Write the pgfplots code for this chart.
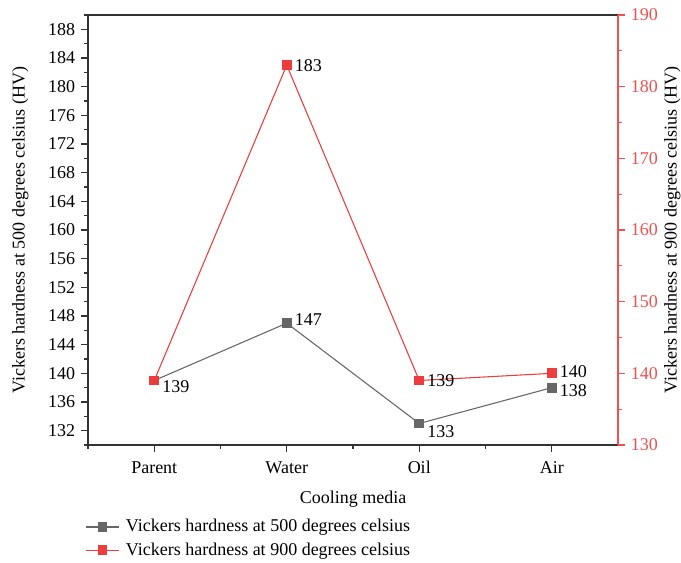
\documentclass[border=0pt]{standalone}
\usepackage{fontspec}
\setmainfont{Liberation Serif}
\usepackage{pgfplots}
\pgfplotsset{compat=1.18}
\definecolor{cgray}{HTML}{666666}
\definecolor{cred}{HTML}{EE3B3B}
\definecolor{axred}{HTML}{F05050}
\begin{document}
\fontsize{13.5}{16}\selectfont
\begin{tikzpicture}[font=\fontsize{13.5}{16}\selectfont]
\path[use as bounding box] (-66pt,-88.5pt) rectangle (444.75pt,333.75pt);
\begin{axis}[
  scale only axis, width=397.5pt, height=322.5pt,
  xmin=-0.5, xmax=3.5, ymin=130, ymax=190,
  axis x line*=bottom, axis y line*=left,
  axis line style={black!80, line width=0.8pt, -},
  xtick={0,1,2,3}, xticklabels={Parent,Water,Oil,Air},
  minor xtick={-0.5,0.5,1.5,2.5},
  ytick={132,136,...,188}, minor ytick={130,134,...,190},
  tick align=outside, major tick length=5pt, minor tick length=2.7pt,
  tick style={black!80, line width=0.8pt},
  tick label style={font=\fontsize{13.5}{16}\selectfont},
  xticklabel style={yshift=-2.5pt},
  label style={font=\fontsize{13.5}{16}\selectfont},
  /pgf/number format/assume math mode=true,
  xlabel={Cooling media}, ylabel={Vickers hardness at 500 degrees celsius (HV)},
  xlabel style={yshift=-3.5pt},
  ylabel style={yshift=5.5pt},
  legend style={draw=none, fill=none, at={(-0.012,-0.16)}, anchor=north west,
    row sep=2pt, font=\fontsize{13.5}{16}\selectfont,
    nodes={inner xsep=5pt}},
  legend cell align=left,
  legend image code/.code={
    \draw[#1] (0cm,0cm) -- (0.85cm,0cm);
    \draw[#1, mark repeat=1] plot coordinates {(0.425cm,0cm)};
  },
  clip=false,
]
\addplot[cgray, line width=0.8pt, mark=square*, mark size=3.3pt, mark options={solid}]
  coordinates {(0,139) (1,147) (2,133) (3,138)};
\addlegendentry{Vickers hardness at 500 degrees celsius}
\addlegendimage{cred, line width=0.8pt, mark=square*, mark size=3.3pt}
\addlegendentry{Vickers hardness at 900 degrees celsius}
\node[anchor=north west, inner sep=1pt] at (axis cs:0.05,139.2) {139};
\node[anchor=west, inner sep=1pt] at (axis cs:1.05,147.5) {147};
\node[anchor=north west, inner sep=1pt] at (axis cs:2.05,133) {133};
\node[anchor=west, inner sep=1pt] at (axis cs:3.05,137.6) {138};
\end{axis}
\begin{axis}[
  scale only axis, width=397.5pt, height=322.5pt,
  xmin=-0.5, xmax=3.5, ymin=130, ymax=190,
  axis x line*=top, axis y line*=right,
  x axis line style={black!80, line width=0.8pt, -},
  y axis line style={axred, line width=0.8pt, -},
  xtick=\empty,
  ytick={130,140,...,190}, minor ytick={135,145,...,185},
  tick align=outside, major tick length=5pt, minor tick length=2.7pt,
  ytick style={axred, line width=0.8pt},
  yticklabel style={text=axred, font=\fontsize{13.5}{16}\selectfont},
  label style={font=\fontsize{13.5}{16}\selectfont},
  /pgf/number format/assume math mode=true,
  ylabel={Vickers hardness at 900 degrees celsius (HV)},
  ylabel style={yshift=4.5pt},
  clip=false,
]
\addplot[cred, line width=0.8pt, mark=square*, mark size=3.3pt, mark options={solid}]
  coordinates {(0,139) (1,183) (2,139) (3,140)};
\node[anchor=west, inner sep=1pt] at (axis cs:1.05,183) {183};
\node[anchor=west, inner sep=1pt] at (axis cs:2.05,139) {139};
\node[anchor=west, inner sep=1pt] at (axis cs:3.05,140.3) {140};
\end{axis}
\end{tikzpicture}
\end{document}
